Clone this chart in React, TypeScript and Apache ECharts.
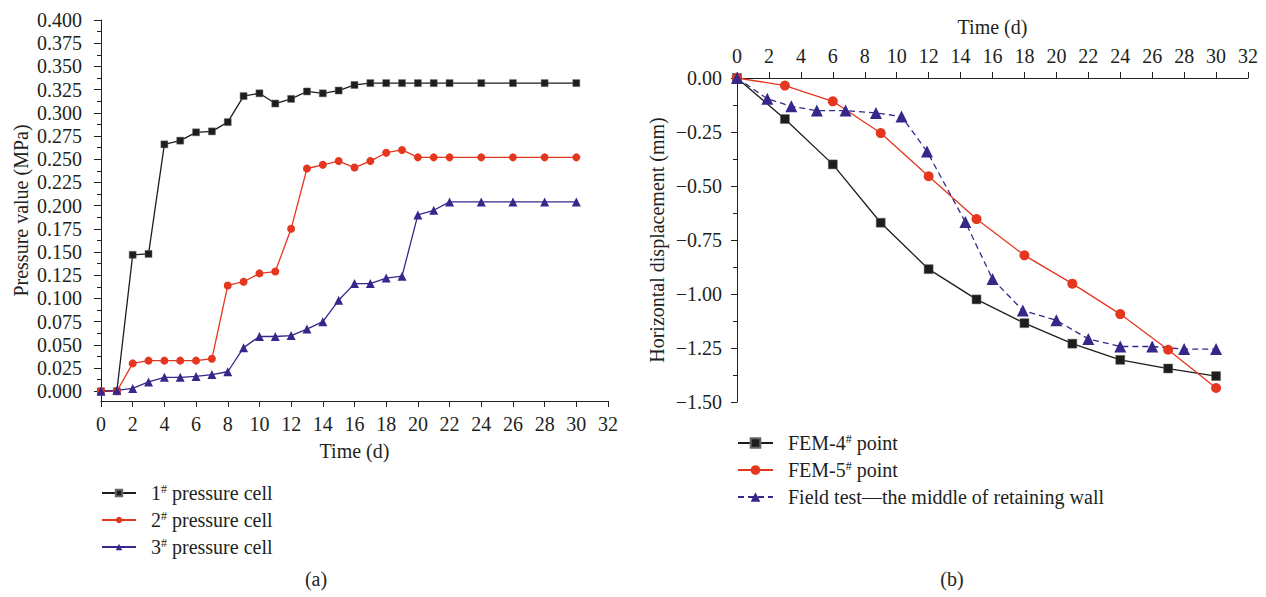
import React, { useEffect, useRef } from 'react';
import * as echarts from 'echarts';

// ---------- (a) earth pressure cells ----------
const pressureTime = [0, 1, 2, 3, 4, 5, 6, 7, 8, 9, 10, 11, 12, 13, 14, 15, 16, 17, 18, 19, 20, 21, 22, 24, 26, 28, 30];
const cell1 = [0, 0, 0.147, 0.148, 0.266, 0.270, 0.279, 0.280, 0.290, 0.318, 0.321, 0.310, 0.315, 0.323, 0.321, 0.324, 0.330, 0.332, 0.332, 0.332, 0.332, 0.332, 0.332, 0.332, 0.332, 0.332, 0.332];
const cell2 = [0, 0, 0.030, 0.033, 0.033, 0.033, 0.033, 0.035, 0.114, 0.118, 0.127, 0.129, 0.175, 0.240, 0.244, 0.248, 0.241, 0.248, 0.257, 0.260, 0.252, 0.252, 0.252, 0.252, 0.252, 0.252, 0.252];
const cell3 = [0, 0.001, 0.003, 0.010, 0.015, 0.015, 0.016, 0.018, 0.021, 0.047, 0.059, 0.059, 0.060, 0.067, 0.075, 0.098, 0.116, 0.116, 0.122, 0.124, 0.190, 0.195, 0.204, 0.204, 0.204, 0.204, 0.204];
const pressureTicks = [0, 0.025, 0.05, 0.075, 0.1, 0.125, 0.15, 0.175, 0.2, 0.225, 0.25, 0.275, 0.3, 0.325, 0.35, 0.375, 0.4];
const pressureNames = ['1# pressure cell', '2# pressure cell', '3# pressure cell'];

// ---------- (b) horizontal displacement ----------
const femTime = [0, 3, 6, 9, 12, 15, 18, 21, 24, 27, 30];
const fem4 = [0, -0.19, -0.40, -0.67, -0.885, -1.025, -1.135, -1.23, -1.305, -1.345, -1.38];
const fem5 = [0, -0.035, -0.108, -0.255, -0.455, -0.653, -0.821, -0.952, -1.093, -1.258, -1.435];
const fieldTime = [0, 1.9, 3.4, 5.0, 6.8, 8.7, 10.3, 11.9, 14.3, 16.0, 17.9, 20.0, 22.0, 24.0, 26.0, 28.0, 30.0];
const fieldDisp = [0, -0.096, -0.131, -0.151, -0.151, -0.162, -0.178, -0.340, -0.667, -0.931, -1.076, -1.122, -1.208, -1.243, -1.243, -1.255, -1.255];
const dispNames = ['FEM-4# point', 'FEM-5# point', 'Field test\u2014the middle of retaining wall'];

const FONT = 'Liberation Serif';
const INK = '#231f20';
const BLACK = '#1d1d1b';
const RED = '#e5361f';
const BLUE = '#35288a';

const pair = (xs: number[], ys: number[]) => xs.map((x, i) => [x, ys[i]]);

export default function App() {
  const ref = useRef<HTMLDivElement>(null);

  useEffect(() => {
    if (!ref.current) return;
    const chart = echarts.init(ref.current, undefined, { renderer: 'svg' });
    const minorTicks = pressureTicks.slice(1).map((v, i) => (v + pressureTicks[i]) / 2);

    const axisCommon = {
      axisLine: { show: true, onZero: false, lineStyle: { color: INK, width: 1 } },
      axisTick: { show: true, inside: false, length: 6, lineStyle: { color: INK, width: 1 } },
      axisLabel: { fontSize: 20, color: INK, fontFamily: FONT },
      splitLine: { show: false },
      nameTextStyle: { fontSize: 20, color: INK, fontFamily: FONT },
      nameLocation: 'middle' as const,
    };

    const legendText = {
      fontSize: 20,
      lineHeight: 20,
      color: INK,
      fontFamily: FONT,
      padding: [0, 0, 0, 10],
      rich: {
        sup: { fontSize: 12, lineHeight: 12, verticalAlign: 'top', color: INK, fontFamily: FONT },
      },
    };
    const supFormatter = (name: string) => name.replace('#', '{sup|#}');

    const option = {
      animation: false,
      textStyle: { fontFamily: FONT, color: INK },
      grid: [
        { left: 101, top: 20, width: 507, height: 381 },
        { left: 737, top: 78, width: 511, height: 324 },
      ],
      xAxis: [
        {
          ...axisCommon,
          type: 'value', gridIndex: 0, min: 0, max: 32, interval: 2, position: 'bottom',
          name: 'Time (d)', nameGap: 40,
          axisLabel: { ...axisCommon.axisLabel, margin: 13 },
        },
        {
          ...axisCommon,
          type: 'value', gridIndex: 1, min: 0, max: 32, interval: 2, position: 'top',
          name: 'Time (d)', nameGap: 41,
          axisLabel: { ...axisCommon.axisLabel, margin: 12 },
        },
      ],
      yAxis: [
        {
          ...axisCommon,
          type: 'value', gridIndex: 0, position: 'left', min: -0.0105, max: 0.4,
          name: 'Pressure value (MPa)', nameGap: 70,
          axisTick: { ...axisCommon.axisTick, length: 7, customValues: pressureTicks },
          axisLabel: {
            ...axisCommon.axisLabel, margin: 19, customValues: pressureTicks,
            formatter: (v: number) => v.toFixed(3),
          },
        },
        {
          type: 'value', gridIndex: 0, position: 'left', min: -0.0105, max: 0.4,
          axisLine: { show: false },
          axisLabel: { show: false },
          splitLine: { show: false },
          axisTick: { show: true, inside: false, length: 4, lineStyle: { color: INK, width: 1 }, customValues: minorTicks },
        },
        {
          ...axisCommon,
          type: 'value', gridIndex: 1, position: 'left', min: -1.5, max: 0, interval: 0.25,
          name: 'Horizontal displacement (mm)', nameGap: 70,
          minorTick: { show: true, splitNumber: 2, length: 4, lineStyle: { color: INK, width: 1 } },
          axisLabel: {
            ...axisCommon.axisLabel, margin: 15,
            formatter: (v: number) => (v < 0 ? '\u2212' : '') + Math.abs(v).toFixed(2),
          },
        },
      ],
      legend: [
        {
          data: pressureNames, orient: 'vertical', left: 101, top: 483,
          itemWidth: 34, itemHeight: 8, itemGap: 7, padding: 0,
          formatter: supFormatter, textStyle: legendText, selectedMode: false,
        },
        {
          data: dispNames, orient: 'vertical', left: 737, top: 433,
          itemWidth: 35, itemHeight: 12, itemGap: 7, padding: 0,
          formatter: supFormatter, textStyle: legendText, selectedMode: false,
        },
      ],
      graphic: [
        { type: 'text', x: 316, y: 579, style: { text: '(a)', font: `20px "${FONT}"`, fill: INK, align: 'center', verticalAlign: 'middle' } },
        { type: 'text', x: 952, y: 579, style: { text: '(b)', font: `20px "${FONT}"`, fill: INK, align: 'center', verticalAlign: 'middle' } },
      ],
      series: [
        {
          type: 'line', name: pressureNames[0], xAxisIndex: 0, yAxisIndex: 0,
          data: pair(pressureTime, cell1), symbol: 'rect', symbolSize: 7, color: BLACK,
          itemStyle: { color: BLACK, borderColor: '#666', borderWidth: 0.5 },
          lineStyle: { color: BLACK, width: 1.3 },
        },
        {
          type: 'line', name: pressureNames[1], xAxisIndex: 0, yAxisIndex: 0,
          data: pair(pressureTime, cell2), symbol: 'circle', symbolSize: 8, color: RED,
          itemStyle: { color: RED },
          lineStyle: { color: RED, width: 1.3 },
        },
        {
          type: 'line', name: pressureNames[2], xAxisIndex: 0, yAxisIndex: 0,
          data: pair(pressureTime, cell3), symbol: 'triangle', symbolSize: 9, color: BLUE,
          itemStyle: { color: BLUE },
          lineStyle: { color: BLUE, width: 1.3 },
        },
        {
          type: 'line', name: dispNames[0], xAxisIndex: 1, yAxisIndex: 2,
          data: pair(femTime, fem4), symbol: 'rect', symbolSize: 9, color: BLACK,
          itemStyle: { color: BLACK, borderColor: '#666', borderWidth: 0.5 },
          lineStyle: { color: BLACK, width: 1.3 },
        },
        {
          type: 'line', name: dispNames[1], xAxisIndex: 1, yAxisIndex: 2,
          data: pair(femTime, fem5), symbol: 'circle', symbolSize: 10, color: RED,
          itemStyle: { color: RED },
          lineStyle: { color: RED, width: 1.3 },
        },
        {
          type: 'line', name: dispNames[2], xAxisIndex: 1, yAxisIndex: 2,
          data: pair(fieldTime, fieldDisp), symbol: 'triangle', symbolSize: 12, color: BLUE,
          itemStyle: { color: BLUE },
          lineStyle: { color: BLUE, width: 1.3, type: [6, 4] },
        },
      ],
    };

    chart.setOption(option as any);
    return () => chart.dispose();
  }, []);

  return (
    <div
      ref={ref}
      style={{ position: 'fixed', left: 0, top: 0, width: 1266, height: 597, background: '#ffffff' }}
    />
  );
}
